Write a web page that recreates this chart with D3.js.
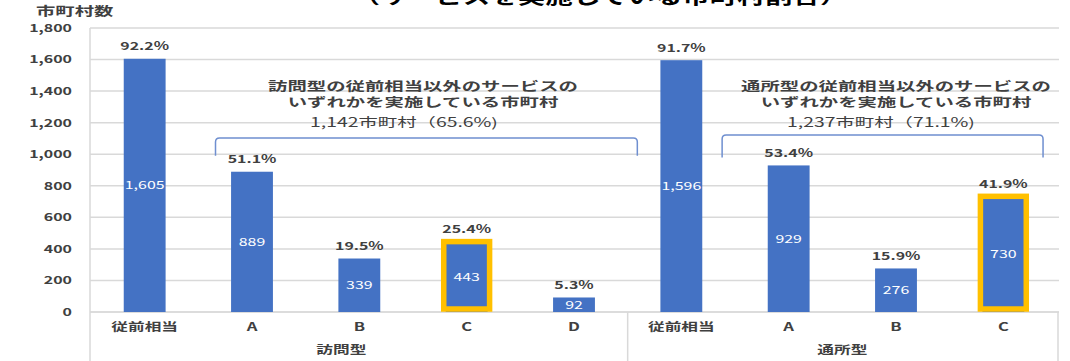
<!DOCTYPE html>
<html><head><meta charset="utf-8">
<script src="https://cdn.jsdelivr.net/npm/d3@7"></script>
<style>
html,body{margin:0;padding:0;background:#fff;}
svg{display:block;}
text{font-family:"Noto Sans CJK JP","Noto Sans",sans-serif;}
</style></head>
<body>
<svg id="chart" width="1070" height="361"></svg>
<script>
// ---- data ----
const groups = ["訪問型", "通所型"];
const houmonCats = ["従前相当", "A", "B", "C", "D"];
const houmonValues = [1605, 889, 339, 443, 92];
const houmonPct = ["92.2%", "51.1%", "19.5%", "25.4%", "5.3%"];
const tsushoCats = ["従前相当", "A", "B", "C"];
const tsushoValues = [1596, 929, 276, 730];
const tsushoPct = ["91.7%", "53.4%", "15.9%", "41.9%"];
const highlightCats = ["C"];
const yTicks = [0, 200, 400, 600, 800, 1000, 1200, 1400, 1600, 1800];
const yTitle = "市町村数";
const chartTitle = "（サービスを実施している市町村割合）";
const houmonNote = ["訪問型の従前相当以外のサービスの", "いずれかを実施している市町村", "1,142市町村（65.6%)"];
const tsushoNote = ["通所型の従前相当以外のサービスの", "いずれかを実施している市町村", "1,237市町村（71.1%)"];

(function () {
// ---- build rows ----
const rows = [];
houmonCats.forEach((c, i) => rows.push({id: "h" + i, group: groups[0], cat: c, v: houmonValues[i], p: houmonPct[i]}));
tsushoCats.forEach((c, i) => rows.push({id: "t" + i, group: groups[1], cat: c, v: tsushoValues[i], p: tsushoPct[i]}));

const svg = d3.select("#chart");
const SX = 1.45; // horizontal stretch of the reference picture
const mLeft = 91, mRight = 1057, mTop = 28, mBottom = 312;

const x = d3.scaleBand().domain(rows.map(d => d.id)).range([mLeft, mRight]).paddingInner(0.61).paddingOuter(0.305);
const y = d3.scaleLinear().domain([0, 1800]).range([mBottom, mTop]);
const step = x.step();
const cx = id => x(id) + x.bandwidth() / 2;

function stext(g, tx, ty, str, opts) {
  return g.append("text")
    .attr("transform", `translate(${tx},${ty}) scale(${opts.sx || SX},1)`)
    .attr("text-anchor", opts.anchor || "middle")
    .attr("dy", opts.dy || "0.35em")
    .attr("font-size", opts.size)
    .attr("font-weight", opts.weight || "bold")
    .attr("fill", opts.fill || "#404040")
    .text(str);
}

// title (cut off at the top)
stext(svg, 600, 4, chartTitle, {size: 19, fill: "#000", dy: "0"});

// gridlines
svg.append("g").selectAll("line").data(yTicks).join("line")
  .attr("x1", mLeft - 1).attr("x2", mRight + 2)
  .attr("y1", d => y(d)).attr("y2", d => y(d))
  .attr("stroke", d => d === 0 ? "#d0d0d0" : "#d9d9d9").attr("stroke-width", 1.5);

// y axis line
svg.append("line").attr("x1", mLeft - 1).attr("x2", mLeft - 1).attr("y1", mTop).attr("y2", 361)
  .attr("stroke", "#d9d9d9").attr("stroke-width", 1.5);

// group separators below axis
const groupEdges = [(cx("h4") + cx("t0")) / 2, mRight + 1];
svg.append("g").selectAll("line").data(groupEdges).join("line")
  .attr("x1", d => d).attr("x2", d => d).attr("y1", mBottom).attr("y2", 361)
  .attr("stroke", "#d9d9d9").attr("stroke-width", 1.5);

// y tick labels
const yAxis = svg.append("g");
yTicks.forEach(t => stext(yAxis, 72, y(t), d3.format(",")(t), {size: 11, anchor: "end"}));
stext(svg, 36, 12, yTitle, {size: 12.5, sx: 1.55, anchor: "start"});

// bars
svg.append("g").selectAll("rect").data(rows).join("rect")
  .attr("x", d => x(d.id)).attr("width", x.bandwidth())
  .attr("y", d => y(d.v)).attr("height", d => y(0) - y(d.v))
  .attr("fill", "#4472C4");

// highlight boxes
svg.append("g").selectAll("rect").data(rows.filter(d => highlightCats.includes(d.cat))).join("rect")
  .attr("x", d => x(d.id) - 2).attr("width", x.bandwidth() + 4)
  .attr("y", d => y(d.v) - 0.5).attr("height", d => y(0) - y(d.v) - 2.5)
  .attr("fill", "none").attr("stroke", "#FFC000").attr("stroke-width", 5.5);

// value labels inside bars
const vl = svg.append("g");
rows.forEach(d => stext(vl, cx(d.id), (y(d.v) + y(0)) / 2, d3.format(",")(d.v), {size: 11, fill: "#ffffff", weight: "normal"}));

// percent labels
const pl = svg.append("g");
rows.forEach(d => stext(pl, cx(d.id), y(d.v) - 12.5, d.p, {size: 11}));

// category labels
const cl = svg.append("g");
rows.forEach(d => stext(cl, cx(d.id), 327, d.cat, {size: 11.5}));

// group labels
const gh = rows.filter(d => d.group === groups[0]);
const gt = rows.filter(d => d.group === groups[1]);
stext(svg, (cx(gh[0].id) + cx(gh[gh.length - 1].id)) / 2 - 18, 350, groups[0], {size: 11.5});
stext(svg, (cx(gt[0].id) + cx(gt[gt.length - 1].id)) / 2, 350, groups[1], {size: 11.5});

// brackets
function bracket(x1, x2, vTop, vEnd) {
  const yt = y(vTop), ye = y(vEnd), r = 4;
  const p = d3.path();
  p.moveTo(x1, ye);
  p.lineTo(x1, yt + r);
  p.quadraticCurveTo(x1, yt, x1 + r, yt);
  p.lineTo(x2 - r, yt);
  p.quadraticCurveTo(x2, yt, x2, yt + r);
  p.lineTo(x2, ye);
  svg.append("path").attr("d", p.toString()).attr("fill", "none")
    .attr("stroke", "#6f8fd0").attr("stroke-width", 1.5);
}
bracket(cx("h1") - 0.34 * step, cx("h4") + 0.59 * step, 1103, 990);
bracket(cx("t1") - 0.62 * step, cx("t3") + 0.37 * step, 1122, 980);

// annotation texts
const noteVals = [1426, 1325, 1198];
const ng = svg.append("g");
houmonNote.forEach((s, i) => stext(ng, (cx("h1") + cx("h4")) / 2 + 10 - (i === 2 ? 19 : 0), y(noteVals[i]), s, {size: 12.5, sx: 1.55, weight: i === 2 ? "normal" : "bold"}));
tsushoNote.forEach((s, i) => stext(ng, (cx("t1") + cx("t3")) / 2 + (i === 2 ? -15 : 0), y(noteVals[i]), s, {size: 12.5, sx: 1.55, weight: i === 2 ? "normal" : "bold"}));
})();
</script>
</body></html>
